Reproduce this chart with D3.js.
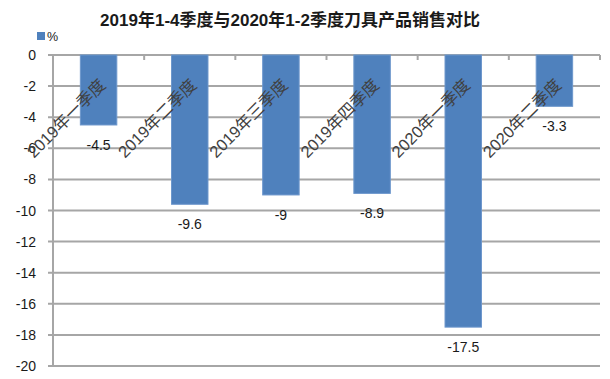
<!DOCTYPE html>
<html>
<head>
<meta charset="utf-8">
<script src="https://cdn.jsdelivr.net/npm/d3@7"></script>
<style>
  body { margin: 0; background: #fff; }
  svg { display: block; }
</style>
</head>
<body>
<svg id="chart" width="610" height="379"></svg>
<script>
const categories = ["2019年一季度", "2019年二季度", "2019年三季度", "2019年四季度", "2020年一季度", "2020年二季度"];
const values = [-4.5, -9.6, -9, -8.9, -17.5, -3.3];
const yTicks = [0, -2, -4, -6, -8, -10, -12, -14, -16, -18, -20];
const title = "2019年1-4季度与2020年1-2季度刀具产品销售对比";
const seriesName = "%";

(function () {
const fontFam = "'Liberation Sans', 'Noto Sans CJK SC', sans-serif";
const svg = d3.select("#chart");

const pLeft = 53, pRight = 600, pTop = 55, pBottom = 366;
const y = d3.scaleLinear().domain([-20, 0]).range([pBottom, pTop]);
const x = d3.scaleBand().domain(categories).range([pLeft, pRight]).paddingInner(0.6).paddingOuter(0.3);
const step = x.step();

// gridlines
svg.append("g").selectAll("line").data(yTicks).join("line")
  .attr("x1", pLeft - 5).attr("x2", pRight)
  .attr("y1", d => y(d)).attr("y2", d => y(d))
  .attr("stroke", "#a6a6a6").attr("stroke-width", 2);

// y axis line
svg.append("line").attr("x1", pLeft).attr("x2", pLeft).attr("y1", pTop).attr("y2", pBottom)
  .attr("stroke", "#a6a6a6").attr("stroke-width", 2);

// y tick labels
svg.append("g").selectAll("text").data(yTicks).join("text")
  .attr("x", 36).attr("y", d => y(d)).attr("dy", "0.36em")
  .attr("text-anchor", "end")
  .attr("font-family", fontFam).attr("font-size", 14)
  .attr("fill", "#1a1a1a")
  .text(d => d);

// bars
svg.append("g").selectAll("rect").data(values).join("rect")
  .attr("x", (d, i) => x(categories[i]))
  .attr("width", x.bandwidth())
  .attr("y", y(0))
  .attr("height", d => y(d) - y(0))
  .attr("fill", "#4f81bd")
  .attr("stroke", "#6d97cc").attr("stroke-width", 1);

// category tick marks (top axis, pointing down)
const boundaries = d3.range(1, categories.length + 1).map(i => pLeft + i * step);
svg.append("g").selectAll("line").data(boundaries).join("line")
  .attr("x1", d => d).attr("x2", d => d)
  .attr("y1", y(0)).attr("y2", y(0) + 5)
  .attr("stroke", "#a6a6a6").attr("stroke-width", 2);

// category labels (rotated)
svg.append("g").selectAll("text").data(categories).join("text")
  .attr("transform", d => {
    const cx = x(d) + x.bandwidth() / 2 + 8;
    return `translate(${cx},86) rotate(-45)`;
  })
  .attr("text-anchor", "end")
  .attr("font-family", fontFam).attr("font-size", 16.5)
  .attr("fill", "#404040")
  .text(d => d);

// data labels
svg.append("g").selectAll("text").data(values).join("text")
  .attr("x", (d, i) => x(categories[i]) + x.bandwidth() / 2)
  .attr("y", d => y(d) + 25)
  .attr("text-anchor", "middle")
  .attr("font-family", fontFam).attr("font-size", 14)
  .attr("fill", "#1a1a1a")
  .text(d => d);

// title
svg.append("text")
  .attr("x", 290).attr("y", 26)
  .attr("text-anchor", "middle")
  .attr("font-family", fontFam).attr("font-size", 17).attr("font-weight", "bold")
  .attr("fill", "#1a1a1a")
  .text(title);

// legend
svg.append("rect").attr("x", 37).attr("y", 32).attr("width", 8).attr("height", 8).attr("fill", "#4f81bd");
svg.append("text").attr("x", 47).attr("y", 41)
  .attr("font-family", fontFam).attr("font-size", 12.5)
  .attr("fill", "#1a1a1a")
  .text(seriesName);
})();
</script>
</body>
</html>
